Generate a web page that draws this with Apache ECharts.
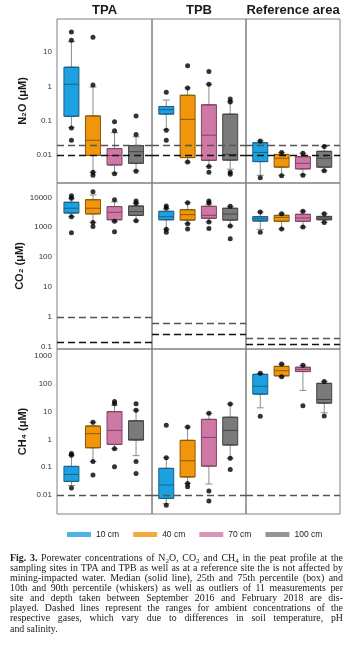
<!DOCTYPE html>
<html><head><meta charset="utf-8">
<script src="https://cdn.jsdelivr.net/npm/echarts@6/dist/echarts.min.js"></script>
<style>
html,body{margin:0;padding:0;background:#fff;}
#chart{position:absolute;left:0;top:0;width:353px;height:656px;}
#cap{position:absolute;left:10px;top:552.5px;width:333px;font-family:'Liberation Serif','Times New Roman',serif;font-size:9.9px;line-height:10.15px;color:#1a1a1a;}
#cap div{text-align:justify;text-align-last:justify;}
#cap div.last{text-align-last:left;}
#cap sub{font-size:0.72em;line-height:0;vertical-align:-0.3em;}
</style></head>
<body>
<div id="chart"></div>
<div id="cap">
<div><b>Fig. 3.</b> Porewater concentrations of N<sub>2</sub>O, CO<sub>2</sub> and CH<sub>4</sub> in the peat profile at the</div>
<div>sampling sites in TPA and TPB as well as at a reference site the is not affected by</div>
<div>mining-impacted water. Median (solid line), 25th and 75th percentile (box) and</div>
<div>10th and 90th percentile (whiskers) as well as outliers of 11 measurements per</div>
<div>site and depth taken between September 2016 and February 2018 are dis-</div>
<div>played. Dashed lines represent the ranges for ambient concentrations of the</div>
<div>respective gases, which vary due to differences in soil temperature, pH</div>
<div class="last">and salinity.</div>
</div>
<script>
const sites = ['TPA', 'TPB', 'Reference area'];
const depths = ['10 cm', '40 cm', '70 cm', '100 cm'];
const gasNames = ['N₂O (μM)', 'CO₂ (μM)', 'CH₄ (μM)'];

const n2oTicks = ['0.01', '0.1', '1', '10'];
const co2Ticks = ['0.1', '1', '10', '100', '1000', '10000'];
const ch4Ticks = ['0.01', '0.1', '1', '10', '100', '1000'];

// [10th, 25th, median, 75th, 90th] per depth
const n2oTPA = [[0.063, 0.135, 1.15, 3.6, 20], [0.0032, 0.0098, 0.027, 0.138, 0.96], [0.003, 0.0052, 0.0098, 0.0155, 0.045], [0.0035, 0.0058, 0.0126, 0.019, 0.034]];
const n2oTPB = [[0.056, 0.157, 0.21, 0.26, 0.4], [0.0063, 0.0085, 0.11, 0.55, 0.9], [0.0047, 0.0071, 0.038, 0.29, 1.15], [0.0039, 0.0072, 0.0105, 0.155, 0.36]];
const n2oRef = [[0.0026, 0.0065, 0.012, 0.023, 0.026], [0.0026, 0.0045, 0.0081, 0.0105, 0.012], [0.0027, 0.004, 0.0058, 0.009, 0.0113], [0.0035, 0.0045, 0.0081, 0.0129, 0.0178]];
const co2TPA = [[2250, 3000, 4300, 6800, 9300], [1450, 2800, 4300, 8300, 12000], [1580, 1780, 3150, 4900, 7000], [1650, 2500, 3300, 5100, 6300]];
const co2TPB = [[850, 1780, 2250, 3400, 4150], [1310, 1740, 2630, 3850, 6600], [1500, 2000, 2500, 5000, 6000], [1100, 1740, 2770, 4300, 5000]];
const co2Ref = [[850, 1620, 1920, 2250, 3230], [870, 1580, 2140, 2500, 2830], [1010, 1580, 2040, 2700, 3400], [1450, 1780, 2040, 2300, 2830]];
const ch4TPA = [[0.022, 0.031, 0.055, 0.107, 0.27], [0.16, 0.5, 1.6, 3.0, 4.1], [0.46, 0.66, 2.1, 9.8, 17], [0.26, 0.95, 1.0, 4.6, 11]];
const ch4TPB = [[0.0049, 0.0076, 0.023, 0.091, 0.22], [0.026, 0.045, 0.17, 0.92, 2.8], [0.025, 0.11, 1.17, 5.2, 8.6], [0.21, 0.63, 2.1, 6.2, 18.5]];
const ch4Ref = [[13.5, 42, 80, 215, 233], [175, 190, 290, 415, 500], [57, 270, 325, 385, 450], [9, 20, 27, 102, 120]];

// outliers per depth
const n2oTPAOut = [[38, 22, 0.062, 0.027], [27, 1.1, 0.0032, 0.0026], [0.094, 0.051, 0.0029], [0.138, 0.04, 0.0034]];
const n2oTPBOut = [[0.67, 0.053, 0.027], [4.0, 0.9, 0.0063], [2.7, 1.15, 0.0047, 0.0032], [0.43, 0.35, 0.0032, 0.0028]];
const n2oRefOut = [[0.026, 0.0022], [0.012, 0.0025], [0.0113, 0.0026], [0.018, 0.0035]];
const co2TPAOut = [[11300, 9300, 2250, 650], [15400, 1450, 1050], [8300, 1580, 700], [7500, 6300, 1650]];
const co2TPBOut = [[5100, 4400, 850, 680], [6600, 1310, 870], [7500, 6400, 1500, 910], [5000, 1100, 415]];
const co2RefOut = [[3230, 680], [2830, 870], [3400, 1010], [2830, 1450]];
const ch4TPAOut = [[0.31, 0.27, 0.018], [4.1, 0.16, 0.053], [23, 19, 0.46, 0.105], [19, 11, 0.16, 0.06]];
const ch4TPBOut = [[3.2, 0.22, 0.0043], [2.8, 0.026, 0.02], [8.6, 0.014, 0.0062], [18.5, 0.21, 0.083]];
const ch4RefOut = [[233, 6.7], [500, 175], [450, 16], [120, 6.9]];

// ambient concentration ranges (upper, lower) per site
const n2oAmbient = [[0.0212, 0.013], [0.0212, 0.013], [0.0212, 0.013]];
const co2Ambient = [[1.0, 0.136], [0.6, 0.27], [0.197, 0.124]];
const ch4Ambient = [[0.0056, 0.0037], [0.0057, 0.0038], [0.0056, 0.0037]];

const stats = [[n2oTPA, n2oTPB, n2oRef], [co2TPA, co2TPB, co2Ref], [ch4TPA, ch4TPB, ch4Ref]];
const outs = [[n2oTPAOut, n2oTPBOut, n2oRefOut], [co2TPAOut, co2TPBOut, co2RefOut], [ch4TPAOut, ch4TPBOut, ch4RefOut]];
const ambient = [n2oAmbient, co2Ambient, ch4Ambient];
const ticks = [n2oTicks, co2Ticks, ch4Ticks];
const yRange = [[0.00155, 91], [0.085, 30100], [0.0021, 1740]];

const depthFill = ['#1ba1df', '#f0950c', '#cf78a6', '#7a7a7a'];
const depthEdge = ['#1f5f86', '#8a5a08', '#7d4464', '#444444'];
const FONT = "'Liberation Sans', Arial, sans-serif";

const colLeft = [57, 152, 246], colWidth = [95, 94, 94];
const rowTop = [19, 183, 349], rowHeight = [164, 166, 165];

function tickFormatter(list) {
  return function (v) {
    const l = Math.log10(v);
    const hit = list.find(t => Math.abs(Math.log10(parseFloat(t)) - l) < 1e-6);
    return hit || '';
  };
}

const grid = [], xAxis = [], yAxis = [], series = [];
for (let r = 0; r < 3; r++) {
  for (let c = 0; c < 3; c++) {
    const g = r * 3 + c;
    grid.push({left: colLeft[c], top: rowTop[r], width: colWidth[c], height: rowHeight[r],
      show: true, borderColor: '#808080', borderWidth: 1, backgroundColor: 'transparent'});
    for (let k = 0; k < 2; k++) {
      xAxis.push({type: 'value', gridIndex: g, min: 0.33, max: 4.74, show: false});
    }
    yAxis.push({
      type: 'log', logBase: 10, gridIndex: g, min: yRange[r][0], max: yRange[r][1],
      axisLine: {show: false}, axisTick: {show: false}, splitLine: {show: false},
      axisLabel: {show: c === 0, formatter: tickFormatter(ticks[r]), fontSize: 8, color: '#333',
        fontFamily: FONT, margin: 5, showMinLabel: false, showMaxLabel: false},
      name: c === 0 ? gasNames[r] : '', nameLocation: 'middle', nameGap: 29, nameRotate: 90,
      nameTextStyle: {fontSize: 11, fontWeight: 'bold', color: '#1a1a1a', fontFamily: FONT}
    });
    const st = stats[r][c];
    // whiskers (narrow caps)
    series.push({
      type: 'boxplot', xAxisIndex: g * 2, yAxisIndex: g, boxWidth: [7, 7], silent: true,
      data: st.map((s, d) => ({value: [d + 1].concat(s),
        itemStyle: {color: depthFill[d], borderColor: '#8c8c8c', borderWidth: 1}}))
    });
    // boxes
    series.push({
      type: 'boxplot', xAxisIndex: g * 2 + 1, yAxisIndex: g, boxWidth: [15, 15], silent: true,
      data: st.map((s, d) => ({value: [d + 1, s[1], s[1], s[2], s[3], s[3]],
        itemStyle: {color: depthFill[d], borderColor: depthEdge[d], borderWidth: 1}}))
    });
    const pts = [];
    outs[r][c].forEach((list, d) => list.forEach(v => pts.push([d + 1, v])));
    const amb = ambient[r][c];
    series.push({
      type: 'scatter', xAxisIndex: g * 2, yAxisIndex: g, data: pts, symbolSize: 5,
      itemStyle: {color: '#000'}, silent: true, z: 5,
      markLine: {silent: true, symbol: ['none', 'none'], label: {show: false},
        data: [
          {yAxis: amb[0], lineStyle: {color: '#555', type: [7, 4], width: 1.3}},
          {yAxis: amb[1], lineStyle: {color: '#111', type: [7, 4], width: 1.3}}
        ]}
    });
  }
}
// legend entries
depths.forEach((d, i) => series.push({type: 'scatter', name: d, xAxisIndex: 0, yAxisIndex: 0, data: [],
  itemStyle: {color: depthFill[i]}}));

const option = {
  animation: false,
  backgroundColor: '#fff',
  title: sites.map((s, i) => ({text: s, left: colLeft[i] + colWidth[i] / 2, top: 4, padding: 0, textAlign: 'center',
    textStyle: {fontSize: 13, fontWeight: 'bold', color: '#1a1a1a', fontFamily: FONT}})),
  legend: {data: depths, left: 67, top: 530, icon: 'rect', itemWidth: 24, itemHeight: 5, itemGap: 14, padding: 0,
    textStyle: {fontSize: 8.5, color: '#222', fontFamily: FONT}, selectedMode: false},
  grid, xAxis, yAxis, series
};
const chart = echarts.init(document.getElementById('chart'), null, {renderer: 'canvas'});
chart.setOption(option);
</script>
</body></html>
